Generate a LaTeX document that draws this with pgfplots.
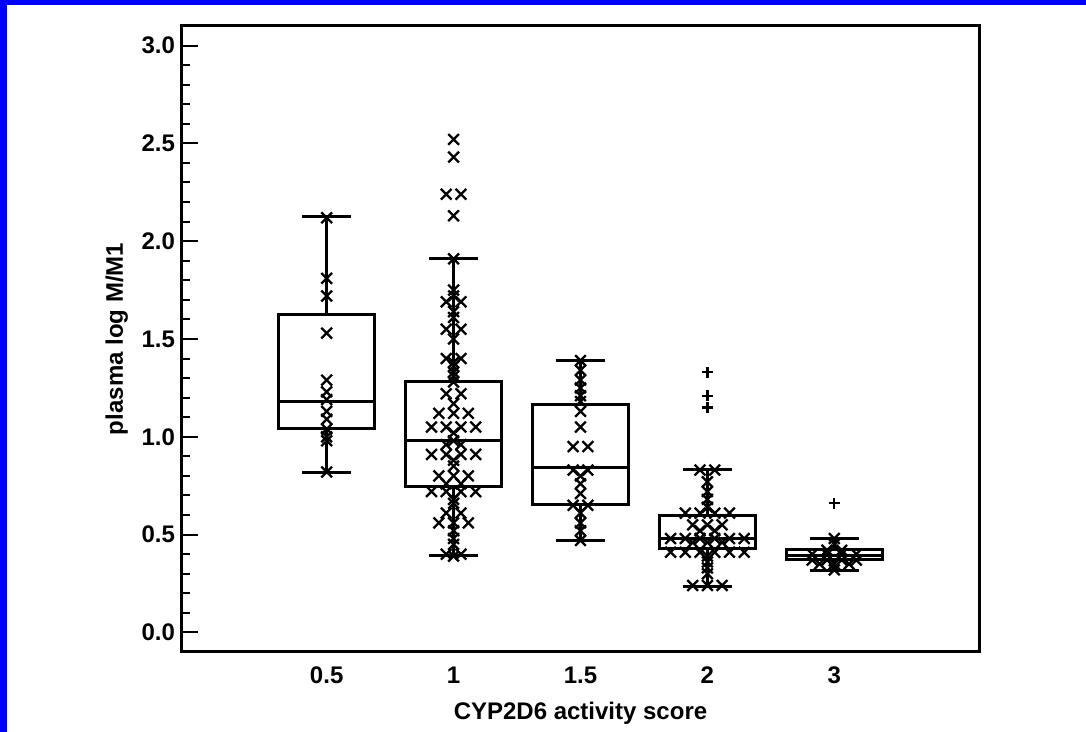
\documentclass[border=0pt]{standalone}
\usepackage{pgfplots}
\pgfplotsset{compat=1.18}
\usepackage{pgfplotstable}
\usepgfplotslibrary{statistics}
\usepackage{fontspec}
\setmainfont{Liberation Sans}

% k = sideways step of the swarm, y = value
\pgfplotstableread{
k y
0 2.12
0 1.81
0 1.72
0 1.53
0 1.29
0 1.23
0 1.19
0 1.13
0 1.09
0 1.04
0 1.00
0 0.98
0 0.82
}\gA

\pgfplotstableread{
k y
0 2.52
0 2.43
-1 2.24
1 2.24
0 2.13
0 1.91
0 1.75
0 1.72
-1 1.69
1 1.69
0 1.64
0 1.61
-1 1.55
1 1.55
0 1.50
-1 1.40
1 1.40
0 1.38
0 1.36
0 1.33
0 1.31
0 1.28
-1 1.22
1 1.22
0 1.17
-2 1.12
0 1.12
2 1.12
-3 1.05
-1 1.05
1 1.05
3 1.05
0 1.02
0 0.98
-1 0.96
1 0.96
-3 0.91
-1 0.91
1 0.91
3 0.91
0 0.88
0 0.85
-2 0.80
0 0.80
2 0.80
-1 0.76
1 0.76
-3 0.72
-1 0.72
1 0.72
3 0.72
0 0.68
0 0.66
-1 0.61
1 0.61
-2 0.56
0 0.56
2 0.56
0 0.52
0 0.48
0 0.45
-1 0.40
1 0.40
0 0.39
}\gB

\pgfplotstableread{
k y
0 1.39
0 1.34
0 1.29
0 1.25
0 1.21
0 1.18
0 1.13
0 1.05
-1 0.95
1 0.95
-1 0.83
1 0.83
0 0.80
0 0.76
0 0.71
-1 0.65
1 0.65
0 0.61
0 0.56
0 0.52
0 0.47
}\gC

\pgfplotstableread{
k y
-1 0.83
1 0.83
0 0.77
0 0.72
0 0.68
0 0.64
-3 0.61
-1 0.61
1 0.61
3 0.61
-2 0.55
0 0.55
2 0.55
-1 0.52
1 0.52
-5 0.48
-3 0.48
-1 0.48
1 0.48
3 0.48
5 0.48
-2 0.46
0 0.46
2 0.46
-5 0.41
-3 0.41
-1 0.41
1 0.41
3 0.41
5 0.41
0 0.39
0 0.36
0 0.33
0 0.30
-2 0.24
0 0.24
2 0.24
}\gD

\pgfplotstableread{
k y
0 0.48
0 0.45
-1 0.42
1 0.42
-3 0.40
-1 0.40
1 0.40
3 0.40
-3 0.37
-1 0.37
1 0.37
3 0.37
-2 0.35
0 0.35
2 0.35
0 0.32
}\gE

\begin{document}
\begin{tikzpicture}
\path[use as bounding box] (-91pt,-40pt) rectangle (452pt,326pt);
\begin{axis}[
 at={(0,0)},anchor=south west,
 scale only axis,width=398.5pt,height=313pt,
 xmin=-0.14,xmax=6.14,ymin=-0.1,ymax=3.1,
 boxplot/draw direction=y,
 xtick={1,2,3,4,5},xticklabels={0.5,1,1.5,2,3},
 x tick style={draw=none},xtick pos=bottom,
 xticklabel style={yshift=-4pt},
 ytick={0,0.5,1,1.5,2,2.5,3},minor y tick num=4,ytick pos=left,
 yticklabel style={/pgf/number format/fixed,/pgf/number format/fixed zerofill,/pgf/number format/precision=1},
 tick align=inside,major tick length=8pt,minor tick length=4pt,
 y tick style={black,line width=1pt},
 axis line style={line width=1.5pt},
 /pgf/number format/assume math mode=true,
 tick label style={font=\fontsize{12}{14}\selectfont\bfseries},
 label style={font=\fontsize{12}{14}\selectfont\bfseries},
 xlabel style={yshift=-2pt},
 xlabel={CYP2D6 activity score},ylabel={plasma log M/M1}]
\addplot[black,line width=1.5pt,boxplot prepared={draw position=1,lower whisker=0.816,lower quartile=1.041,median=1.182,upper quartile=1.625,upper whisker=2.124,box extend=0.76,whisker extend=0.39}] coordinates {};
\addplot[black,line width=1.5pt,boxplot prepared={draw position=2,lower whisker=0.393,lower quartile=0.748,median=0.983,upper quartile=1.284,upper whisker=1.909,box extend=0.76,whisker extend=0.39}] coordinates {};
\addplot[black,line width=1.5pt,boxplot prepared={draw position=3,lower whisker=0.47,lower quartile=0.654,median=0.842,upper quartile=1.165,upper whisker=1.391,box extend=0.76,whisker extend=0.39}] coordinates {};
\addplot[black,line width=1.5pt,boxplot prepared={draw position=4,lower whisker=0.237,lower quartile=0.428,median=0.48,upper quartile=0.598,upper whisker=0.833,box extend=0.76,whisker extend=0.39}] coordinates {};
\addplot[black,line width=1.5pt,boxplot prepared={draw position=5,lower whisker=0.318,lower quartile=0.375,median=0.395,upper quartile=0.425,upper whisker=0.479,box extend=0.76,whisker extend=0.39}] coordinates {};
\addplot[only marks,mark=x,mark size=3.8pt,line width=1.15pt,black] table[x expr=1+0.058*\thisrow{k},y=y] {\gA};
\addplot[only marks,mark=x,mark size=3.8pt,line width=1.15pt,black] table[x expr=2+0.058*\thisrow{k},y=y] {\gB};
\addplot[only marks,mark=x,mark size=3.8pt,line width=1.15pt,black] table[x expr=3+0.058*\thisrow{k},y=y] {\gC};
\addplot[only marks,mark=x,mark size=3.8pt,line width=1.15pt,black] table[x expr=4+0.058*\thisrow{k},y=y] {\gD};
\addplot[only marks,mark=x,mark size=3.8pt,line width=1.15pt,black] table[x expr=5+0.058*\thisrow{k},y=y] {\gE};
% outside values drawn as +
\addplot[only marks,mark=+,mark size=2.7pt,line width=1.15pt,black] coordinates {(4,1.33) (4,1.21) (4,1.15) (5,0.66)};
\end{axis}
\fill[blue] (-91pt,-40pt) rectangle (-87.5pt,326pt);
\fill[blue] (-91pt,323.5pt) rectangle (452pt,326pt);
\end{tikzpicture}
\end{document}
